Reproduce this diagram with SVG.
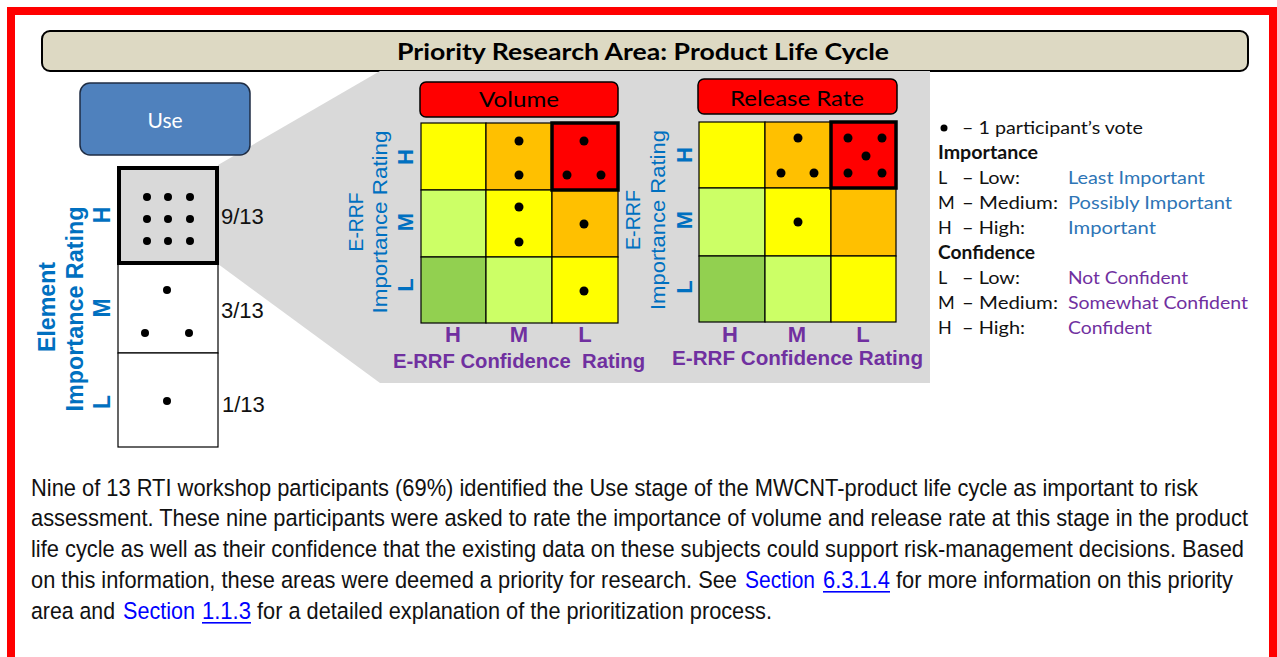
<svg xmlns="http://www.w3.org/2000/svg" width="1277" height="657" viewBox="0 0 1277 657">
<style>
.cal{font-family:Lato,"Open Sans","Noto Sans",sans-serif}
.ar{font-family:"Liberation Sans",Arial,sans-serif}
.nar{font-family:"Liberation Sans",Arial,sans-serif;font-size:24.5px;fill:#111}
.blue{fill:#0070c0}
.purp{fill:#7030a0}
.cell{stroke:#000;stroke-width:1.2}
.dot{fill:#000}
.leg{font-size:18px;fill:#111}
.lb{fill:#2e75b6}
.lp{fill:#7030a0}
.lnk{fill:#0000ff}
</style>
<rect x="0" y="0" width="1277" height="657" fill="#fff"/>
<rect x="11" y="11" width="1262" height="700" fill="none" stroke="#ff0000" stroke-width="8"/>

<g id="title">
<rect x="42" y="31" width="1206" height="40" rx="8" fill="#ddd9c3" stroke="#000" stroke-width="2"/>
<text class="cal" x="643" y="60" font-size="22" font-weight="bold" text-anchor="middle" textLength="492" lengthAdjust="spacingAndGlyphs" fill="#000">Priority Research Area: Product Life Cycle</text>
</g>

<g id="zoom-area">
<polygon points="218,165 380,71 930,71 930,383 380,383 218,264" fill="#d9d9d9"/>
</g>

<g id="use">
<rect x="80" y="83" width="170" height="72" rx="10" fill="#4f81bd" stroke="#1f2d44" stroke-width="1.5"/>
<text class="cal" x="165" y="128" font-size="21" text-anchor="middle" fill="#fff">Use</text>
</g>

<g id="element-rating">
<rect x="118" y="263" width="100" height="90" fill="#fff" stroke="#000" stroke-width="1.2"/>
<rect x="118" y="353" width="100" height="94" fill="#fff" stroke="#000" stroke-width="1.2"/>
<rect x="119" y="168" width="98" height="95" fill="#d9d9d9" stroke="#000" stroke-width="4"/>
<g class="dot">
<circle cx="147" cy="197" r="4"/><circle cx="168" cy="197" r="4"/><circle cx="190" cy="197" r="4"/>
<circle cx="147" cy="219" r="4"/><circle cx="168" cy="219" r="4"/><circle cx="190" cy="219" r="4"/>
<circle cx="147" cy="241" r="4"/><circle cx="168" cy="241" r="4"/><circle cx="190" cy="241" r="4"/>
<circle cx="167" cy="290" r="4"/><circle cx="145" cy="333" r="4"/><circle cx="189" cy="333" r="4"/>
<circle cx="167" cy="401" r="4"/>
</g>
<g class="ar" font-size="22" fill="#111">
<text x="221" y="224">9/13</text>
<text x="221" y="318">3/13</text>
<text x="222" y="412">1/13</text>
</g>
<g class="ar blue" font-weight="bold" font-size="23">
<text transform="translate(55,307) rotate(-90)" text-anchor="middle" textLength="90" lengthAdjust="spacingAndGlyphs">Element</text>
<text transform="translate(83,309) rotate(-90)" text-anchor="middle" textLength="205" lengthAdjust="spacingAndGlyphs">Importance Rating</text>
<text transform="translate(110,215) rotate(-90)" text-anchor="middle">H</text>
<text transform="translate(110,308) rotate(-90)" text-anchor="middle">M</text>
<text transform="translate(110,402) rotate(-90)" text-anchor="middle">L</text>
</g>
</g>

<g id="volume">
<rect x="420" y="82" width="198" height="35" rx="6" fill="#ff0000" stroke="#000" stroke-width="1.5"/>
<text class="cal" x="519" y="107" font-size="21" text-anchor="middle" textLength="80" lengthAdjust="spacingAndGlyphs" fill="#000">Volume</text>
<rect class="cell" x="421" y="123" width="65" height="67" fill="#ffff00"/>
<rect class="cell" x="486" y="123" width="66" height="67" fill="#ffc000"/>
<rect class="cell" x="421" y="190" width="65" height="67" fill="#ccff66"/>
<rect class="cell" x="486" y="190" width="66" height="67" fill="#ffff00"/>
<rect class="cell" x="552" y="190" width="66" height="67" fill="#ffc000"/>
<rect class="cell" x="421" y="257" width="65" height="66" fill="#92d050"/>
<rect class="cell" x="486" y="257" width="66" height="66" fill="#ccff66"/>
<rect class="cell" x="552" y="257" width="66" height="66" fill="#ffff00"/>
<rect x="552" y="123" width="66" height="67" fill="#ff0000" stroke="#000" stroke-width="3.5"/>
<g class="dot">
<circle cx="519" cy="141" r="4.5"/><circle cx="519" cy="175" r="4.5"/>
<circle cx="584" cy="141" r="4.5"/><circle cx="567" cy="175" r="4.5"/><circle cx="601" cy="175" r="4.5"/>
<circle cx="519" cy="207" r="4.5"/><circle cx="519" cy="242" r="4.5"/>
<circle cx="584" cy="224" r="4.5"/>
<circle cx="584" cy="291" r="4.5"/>
</g>
<g class="ar blue" font-size="21">
<text transform="translate(363,222) rotate(-90)" text-anchor="middle" textLength="59" lengthAdjust="spacingAndGlyphs">E-RRF</text>
<text transform="translate(387,222) rotate(-90)" text-anchor="middle" textLength="183" lengthAdjust="spacingAndGlyphs">Importance Rating</text>
<g font-weight="bold" font-size="22">
<text transform="translate(413,157) rotate(-90)" text-anchor="middle">H</text>
<text transform="translate(413,222) rotate(-90)" text-anchor="middle">M</text>
<text transform="translate(413,285) rotate(-90)" text-anchor="middle">L</text>
</g>
</g>
<g class="ar purp" font-weight="bold" font-size="22">
<text x="453" y="342" text-anchor="middle">H</text>
<text x="519" y="342" text-anchor="middle">M</text>
<text x="585" y="342" text-anchor="middle">L</text>
<text x="393" y="368" font-size="20" xml:space="preserve" textLength="252" lengthAdjust="spacingAndGlyphs">E-RRF Confidence  Rating</text>
</g>
</g>

<g id="release-rate">
<rect x="698" y="79" width="199" height="35" rx="6" fill="#ff0000" stroke="#000" stroke-width="1.5"/>
<text class="cal" x="797" y="106" font-size="21" text-anchor="middle" textLength="134" lengthAdjust="spacingAndGlyphs" fill="#000">Release Rate</text>
<rect class="cell" x="699" y="122" width="66" height="66" fill="#ffff00"/>
<rect class="cell" x="765" y="122" width="66" height="66" fill="#ffc000"/>
<rect class="cell" x="699" y="188" width="66" height="68" fill="#ccff66"/>
<rect class="cell" x="765" y="188" width="66" height="68" fill="#ffff00"/>
<rect class="cell" x="831" y="188" width="65" height="68" fill="#ffc000"/>
<rect class="cell" x="699" y="256" width="66" height="66" fill="#92d050"/>
<rect class="cell" x="765" y="256" width="66" height="66" fill="#ccff66"/>
<rect class="cell" x="831" y="256" width="65" height="66" fill="#ffff00"/>
<rect x="831" y="122" width="65" height="66" fill="#ff0000" stroke="#000" stroke-width="3.5"/>
<g class="dot">
<circle cx="798" cy="138" r="4.5"/><circle cx="781" cy="173" r="4.5"/><circle cx="814" cy="173" r="4.5"/>
<circle cx="848" cy="138" r="4.5"/><circle cx="882" cy="138" r="4.5"/><circle cx="866" cy="156" r="4.5"/>
<circle cx="848" cy="173" r="4.5"/><circle cx="882" cy="173" r="4.5"/>
<circle cx="798" cy="222" r="4.5"/>
</g>
<g class="ar blue" font-size="21">
<text transform="translate(640,220) rotate(-90)" text-anchor="middle" textLength="60" lengthAdjust="spacingAndGlyphs">E-RRF</text>
<text transform="translate(665,220) rotate(-90)" text-anchor="middle" textLength="180" lengthAdjust="spacingAndGlyphs">Importance Rating</text>
<g font-weight="bold" font-size="22">
<text transform="translate(692,155) rotate(-90)" text-anchor="middle">H</text>
<text transform="translate(692,220) rotate(-90)" text-anchor="middle">M</text>
<text transform="translate(692,287) rotate(-90)" text-anchor="middle">L</text>
</g>
</g>
<g class="ar purp" font-weight="bold" font-size="22">
<text x="730" y="342" text-anchor="middle">H</text>
<text x="797" y="342" text-anchor="middle">M</text>
<text x="863" y="342" text-anchor="middle">L</text>
<text x="672" y="365" font-size="20" textLength="251" lengthAdjust="spacingAndGlyphs">E-RRF Confidence Rating</text>
</g>
</g>

<g id="legend" class="cal leg">
<circle cx="944" cy="128" r="3.5" fill="#000"/>
<text x="962" y="134" textLength="181" lengthAdjust="spacingAndGlyphs">– 1 participant’s vote</text>
<text x="938" y="159" font-weight="bold" textLength="100" lengthAdjust="spacingAndGlyphs">Importance</text>
<text x="938" y="184">L</text><text x="962" y="184" textLength="58" lengthAdjust="spacingAndGlyphs">– Low:</text>
<text x="938" y="209">M</text><text x="962" y="209" textLength="96" lengthAdjust="spacingAndGlyphs">– Medium:</text>
<text x="938" y="234">H</text><text x="962" y="234" textLength="63" lengthAdjust="spacingAndGlyphs">– High:</text>
<text class="lb" x="1068" y="184" textLength="137" lengthAdjust="spacingAndGlyphs">Least Important</text>
<text class="lb" x="1068" y="209" textLength="164" lengthAdjust="spacingAndGlyphs">Possibly Important</text>
<text class="lb" x="1068" y="234" textLength="88" lengthAdjust="spacingAndGlyphs">Important</text>
<text x="938" y="259" font-weight="bold" textLength="97" lengthAdjust="spacingAndGlyphs">Confidence</text>
<text x="938" y="284">L</text><text x="962" y="284" textLength="58" lengthAdjust="spacingAndGlyphs">– Low:</text>
<text x="938" y="309">M</text><text x="962" y="309" textLength="96" lengthAdjust="spacingAndGlyphs">– Medium:</text>
<text x="938" y="334">H</text><text x="962" y="334" textLength="63" lengthAdjust="spacingAndGlyphs">– High:</text>
<text class="lp" x="1068" y="284" textLength="120" lengthAdjust="spacingAndGlyphs">Not Confident</text>
<text class="lp" x="1068" y="309" textLength="180" lengthAdjust="spacingAndGlyphs">Somewhat Confident</text>
<text class="lp" x="1068" y="334" textLength="84" lengthAdjust="spacingAndGlyphs">Confident</text>
</g>

<g id="caption" class="nar">
<text x="31" y="496" textLength="1167" lengthAdjust="spacingAndGlyphs">Nine of 13 RTI workshop participants (69%) identified the Use stage of the MWCNT-product life cycle as important to risk</text>
<text x="31" y="526" textLength="1217" lengthAdjust="spacingAndGlyphs">assessment. These nine participants were asked to rate the importance of volume and release rate at this stage in the product</text>
<text x="31" y="557" textLength="1213" lengthAdjust="spacingAndGlyphs">life cycle as well as their confidence that the existing data on these subjects could support risk-management decisions. Based</text>
<text x="31" y="588" textLength="706" lengthAdjust="spacingAndGlyphs">on this information, these areas were deemed a priority for research. See</text>
<text class="lnk" x="745" y="588" textLength="70" lengthAdjust="spacingAndGlyphs">Section</text>
<text class="lnk" x="823" y="588" textLength="67" lengthAdjust="spacingAndGlyphs">6.3.1.4</text>
<rect x="823" y="591" width="67" height="1.6" fill="#0000ff"/>
<text x="896" y="588" textLength="337" lengthAdjust="spacingAndGlyphs">for more information on this priority</text>
<text x="31" y="619" textLength="84" lengthAdjust="spacingAndGlyphs">area and</text>
<text class="lnk" x="123" y="619" textLength="72" lengthAdjust="spacingAndGlyphs">Section</text>
<text class="lnk" x="202" y="619" textLength="49" lengthAdjust="spacingAndGlyphs">1.1.3</text>
<rect x="202" y="622" width="49" height="1.6" fill="#0000ff"/>
<text x="257" y="619" textLength="515" lengthAdjust="spacingAndGlyphs">for a detailed explanation of the prioritization process.</text>
</g>
</svg>
